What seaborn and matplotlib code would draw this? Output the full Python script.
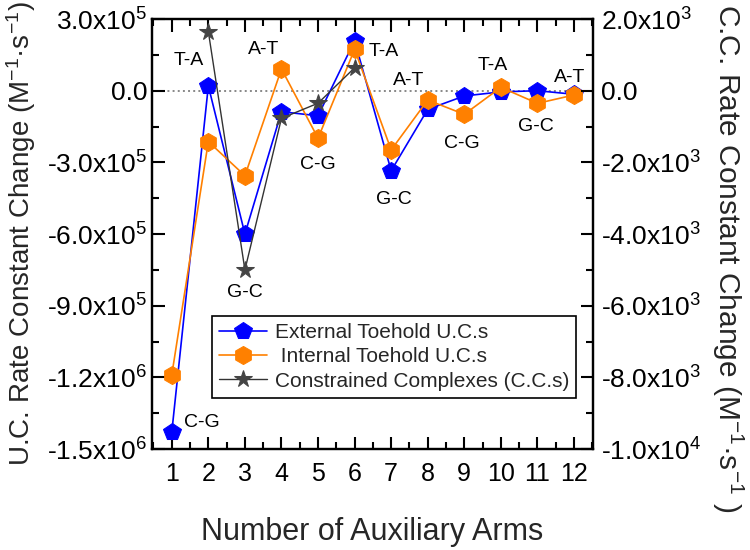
import matplotlib
matplotlib.use("Agg")
import matplotlib.pyplot as plt
import seaborn as sns
import numpy as np
from matplotlib.ticker import FuncFormatter, MultipleLocator

# values
arms = list(range(1, 13))
external_uc = [-1.43e6, 2.0e4, -6.0e5, -8.8e4, -1.05e5, 2.09e5,
               -3.35e5, -7.8e4, -2.2e4, -5.0e3, 0.0, -1.5e4]
internal_uc = [-1.19e6, -2.13e5, -3.56e5, 9.1e4, -1.99e5, 1.73e5,
               -2.48e5, -3.9e4, -9.9e4, 1.4e4, -5.3e4, -1.8e4]
cc_arms = [2, 3, 4, 5, 6]
constrained_cc = [1650, -5000, -770, -350, 640]
pair_labels = ["C-G", "T-A", "G-C", "A-T", "C-G", "T-A",
               "G-C", "A-T", "C-G", "T-A", "G-C", "A-T"]

# label offsets (points) relative to the external-toehold point
label_offsets = [(22, 7), (-14, 18), (0, -42), (-13, 45), (0, -35), (21, -8),
                 (2, -21), (-14, 21), (-2, -34), (-6, 19), (-1, -26), (-3, 12)]

sns.set_theme(style="ticks")
plt.rcParams['font.family'] = ['Liberation Sans', 'DejaVu Sans']
plt.rcParams['mathtext.default'] = 'regular'


def sci_fmt(v, pos):
    if abs(v) < 1e-9:
        return "0.0"
    e = int(np.floor(np.log10(abs(v)) + 1e-9))
    m = v / 10 ** e
    return f"{m:.1f}x10$^{{{e}}}$"


fig = plt.figure(figsize=(7.5, 5.5), dpi=100)
ax = fig.add_axes([0.2027, 0.1836, 0.588, 0.7818])
ax2 = ax.twinx()

ax.axhline(0, color='#888888', ls=':', lw=1.4, zorder=0)

sns.lineplot(x=arms, y=external_uc, ax=ax, color='#0000FF', marker='p',
             markersize=13, markeredgecolor='#0000FF', lw=1.2,
             label='External Toehold U.C.s')
sns.lineplot(x=arms, y=internal_uc, ax=ax, color='#FF8000', marker='h',
             markersize=13, markeredgecolor='#FF8000', lw=1.2,
             label=' Internal Toehold U.C.s')
sns.lineplot(x=cc_arms, y=constrained_cc, ax=ax2, color='#333333', marker='*',
             markersize=13, markeredgecolor='#444444', markerfacecolor='#444444',
             lw=1.0, label='Constrained Complexes (C.C.s)')

for i, txt in enumerate(pair_labels):
    ax.annotate(txt, (arms[i], external_uc[i]), xytext=label_offsets[i],
                textcoords='offset points', ha='center', va='center',
                fontsize=14, color='black')

ax.set_xlim(0.46, 12.52)
ax.set_ylim(-1.5e6, 3e5)
ax2.set_ylim(-1.0e4, 2e3)

ax.xaxis.set_major_locator(MultipleLocator(1))
ax.xaxis.set_minor_locator(MultipleLocator(0.5))
ax.yaxis.set_major_locator(MultipleLocator(3e5))
ax.yaxis.set_minor_locator(MultipleLocator(1.5e5))
ax2.yaxis.set_major_locator(MultipleLocator(2e3))
ax2.yaxis.set_minor_locator(MultipleLocator(1e3))
ax.yaxis.set_major_formatter(FuncFormatter(sci_fmt))
ax2.yaxis.set_major_formatter(FuncFormatter(sci_fmt))

ax.tick_params(which='both', direction='in', top=True, right=False,
               width=1.5, labelsize=19, colors='black')
ax.tick_params(which='major', length=9)
ax.tick_params(which='minor', length=5)
ax.tick_params(axis='x', which='major', pad=9, labelsize=18)
ax2.tick_params(which='both', direction='in', right=True, left=False,
                width=1.5, labelsize=19, colors='black', pad=6)
ax2.tick_params(which='major', length=9)
ax2.tick_params(which='minor', length=5)

for a in (ax, ax2):
    for sp in a.spines.values():
        sp.set_linewidth(1.6)
        sp.set_color('black')
        sp.set_visible(True)

ax.set_xlabel('Number of Auxiliary Arms', fontsize=22, labelpad=23)
ax.set_ylabel('U.C. Rate Constant Change (M$^{-1}$·s$^{-1}$)', fontsize=20,
              va='center')
ax.yaxis.set_label_coords(-0.297, 0.5)
ax2.set_ylabel('C.C. Rate Constant Change (M$^{-1}$·s$^{-1}$ )', fontsize=21.5,
               rotation=270, va='center')
ax2.yaxis.set_label_coords(1.305, 0.445)

h1, l1 = ax.get_legend_handles_labels()
h2, l2 = ax2.get_legend_handles_labels()
if ax.get_legend() is not None:
    ax.get_legend().remove()
leg = ax2.legend(h1 + h2, l1 + l2, loc='lower left', bbox_to_anchor=(0.136, 0.119),
                 borderaxespad=0, fontsize=15, handlelength=2.3, handletextpad=0.35,
                 labelspacing=0.25, fancybox=False, framealpha=1, edgecolor='black',
                 borderpad=0.35)
leg.get_frame().set_linewidth(1.2)

fig.savefig('out.png', dpi=100)
